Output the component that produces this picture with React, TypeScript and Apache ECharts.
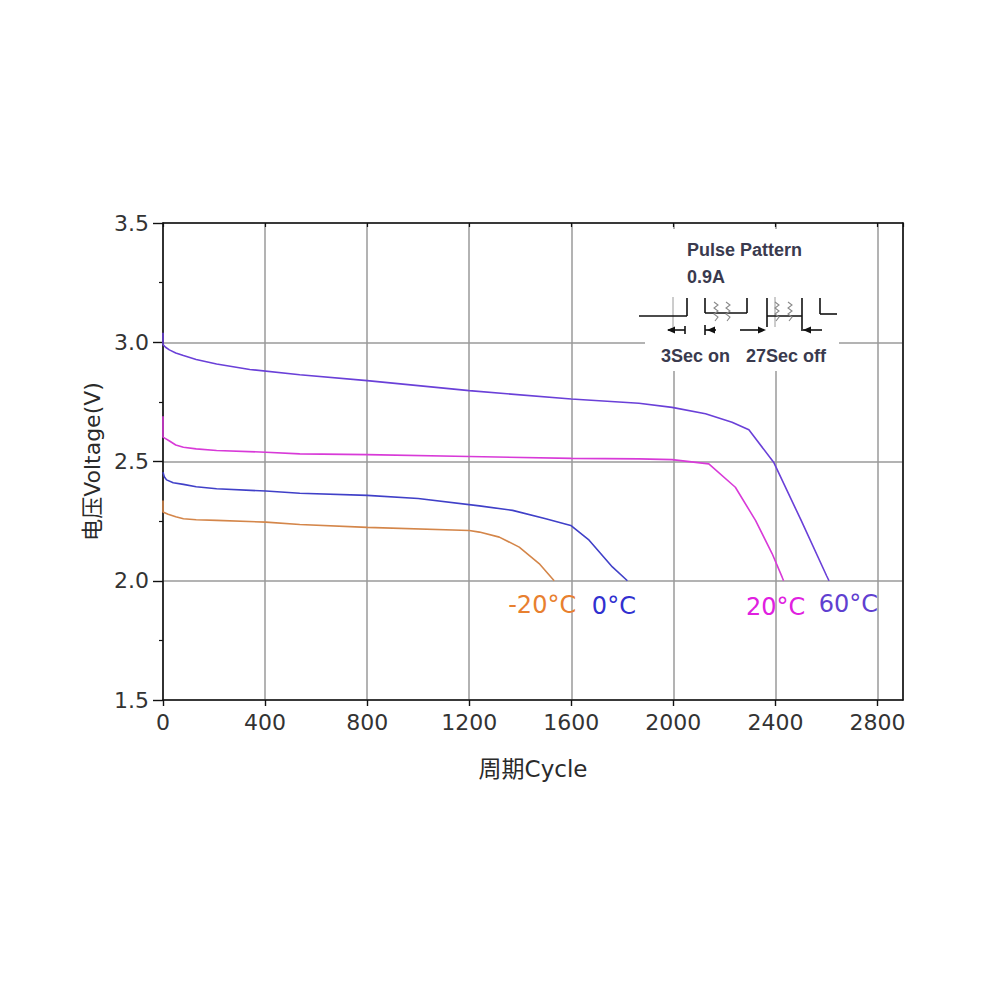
import React, { useEffect, useRef } from "react";
import * as echarts from "echarts";

// ---- data ----
const xTicks = { min: 0, max: 2900, interval: 400 };
const yTicks = { min: 1.5, max: 3.5, interval: 0.5 };

const curve60C: [number, number][] = [
  [0, 3.04], [0, 2.99], [10, 2.979], [25, 2.968], [50, 2.955], [80, 2.944], [130, 2.928],
  [210, 2.909], [340, 2.886], [536, 2.864], [800, 2.839], [1200, 2.797], [1600, 2.762],
  [1865, 2.744], [1995, 2.727], [2126, 2.7], [2230, 2.665], [2296, 2.633], [2393, 2.497],
  [2500, 2.255], [2601, 2.02], [2610, 2.0],
];
const curve20C: [number, number][] = [
  [0, 2.69], [0, 2.602], [10, 2.596], [27, 2.585], [50, 2.569], [80, 2.56], [130, 2.553],
  [210, 2.546], [403, 2.539], [536, 2.532], [800, 2.529], [1200, 2.521], [1600, 2.513],
  [1865, 2.511], [1995, 2.508], [2139, 2.49], [2243, 2.392], [2322, 2.253], [2387, 2.114],
  [2426, 2.016], [2432, 2.0],
];
const curve0C: [number, number][] = [
  [0, 2.455], [5, 2.436], [14, 2.423], [40, 2.411], [80, 2.404], [130, 2.394], [210, 2.386],
  [403, 2.376], [536, 2.367], [800, 2.358], [1000, 2.345], [1240, 2.314], [1370, 2.295],
  [1500, 2.26], [1598, 2.232], [1670, 2.17], [1761, 2.058], [1820, 2.0],
];
const curveMinus20C: [number, number][] = [
  [0, 2.337], [0, 2.288], [20, 2.279], [50, 2.268], [80, 2.26], [130, 2.256], [210, 2.253],
  [403, 2.246], [536, 2.236], [800, 2.224], [1200, 2.211], [1240, 2.204], [1318, 2.183],
  [1396, 2.141], [1474, 2.072], [1533, 2.0],
];

const seriesNames = ["60°C", "20°C", "0°C", "-20°C"];
const lineColors = ["#6a40d8", "#d83ad8", "#4040c8", "#d4864a"];
const labelColors = ["#6040d0", "#e020e0", "#3030d0", "#e8802f"];
const labelCoords: [number, number][] = [
  [2686, 1.902], [2401, 1.889], [1767, 1.895], [1486, 1.897],
];
const curves = [curve60C, curve20C, curve0C, curveMinus20C];

const insetTexts = ["Pulse Pattern", "0.9A", "3Sec on", "27Sec off"];

export default function App() {
  const ref = useRef<HTMLDivElement>(null);

  useEffect(() => {
    if (!ref.current) return;
    const chart = echarts.init(ref.current, null, { renderer: "svg" });

    const ink = "#2a2a2a";
    const insetInk = "#3a3a4e";
    const blk = (x1: number, y1: number, x2: number, y2: number, color = "#111", w = 1.6) => ({
      type: "line",
      z: 101,
      shape: { x1, y1, x2, y2 },
      style: { stroke: color, lineWidth: w },
    });
    const head = (tipX: number, y: number, dir: number) => ({
      type: "polygon",
      z: 102,
      shape: { points: [[tipX, y], [tipX - dir * 8, y - 3.5], [tipX - dir * 8, y + 3.5]] },
      style: { fill: "#111" },
    });
    const squiggle = (x: number, y: number) => ({
      type: "polyline",
      z: 101,
      shape: {
        points: [[x, y], [x + 4, y + 3], [x, y + 6], [x + 4, y + 9], [x, y + 12], [x + 4, y + 15], [x + 1, y + 19]],
      },
      style: { stroke: "#8a8a8a", lineWidth: 1.1, fill: "none" },
    });
    const txt = (text: string, x: number, y: number, align = "left") => ({
      type: "text",
      z: 103,
      style: {
        text,
        x,
        y,
        fill: insetInk,
        fontSize: 18,
        fontWeight: "bold",
        fontFamily: "Liberation Sans, Arial, sans-serif",
        align,
        verticalAlign: "middle",
      },
    });

    const graphics: any[] = [
      { type: "rect", z: 100, shape: { x: 645, y: 229, width: 194, height: 142 }, style: { fill: "#ffffff" } },
      txt(insetTexts[0], 687, 250),
      txt(insetTexts[1], 687, 277),
      txt(insetTexts[2], 661, 356),
      txt(insetTexts[3], 746, 356),
      blk(673, 297, 673, 327, "#9a9a9a", 1),
      blk(775, 297, 775, 327, "#9a9a9a", 1),
      blk(639, 316, 687, 316),
      blk(687, 298, 687, 316),
      blk(705, 298, 705, 313),
      blk(705, 313, 747, 313),
      blk(747, 298, 747, 313),
      blk(767, 298, 767, 327),
      blk(767, 316, 802, 316),
      blk(802, 298, 802, 331),
      blk(820, 298, 820, 314),
      blk(820, 314, 837, 314),
      squiggle(714, 302),
      squiggle(726, 302),
      squiggle(775, 302),
      squiggle(788, 302),
      blk(668, 330, 685, 330),
      head(667, 330, -1),
      blk(685, 326, 685, 334),
      blk(705, 325, 705, 335),
      blk(705, 330, 716, 330),
      head(707, 330, -1),
      blk(740, 330, 764, 330),
      head(766, 330, 1),
      blk(803, 330, 822, 330),
      head(803, 330, -1),
    ];

    const option: any = {
      animation: false,
      backgroundColor: "#ffffff",
      grid: { left: 163, right: 97, top: 223, bottom: 300, containLabel: false },
      xAxis: [
        {
          type: "value",
          min: xTicks.min,
          max: xTicks.max,
          interval: xTicks.interval,
          name: "周期Cycle",
          nameLocation: "middle",
          nameGap: 57,
          nameTextStyle: {
            color: ink,
            fontSize: 23,
            fontFamily: "DejaVu Sans, Noto Sans CJK SC, sans-serif",
          },
          axisLine: { show: true, onZero: false, lineStyle: { color: "#111", width: 1.6 } },
          axisTick: { show: true, inside: false, length: 6, lineStyle: { color: "#111", width: 1.4 } },
          axisLabel: {
            show: true,
            showMaxLabel: false,
            margin: 11,
            color: "#333",
            fontSize: 22,
            fontFamily: "DejaVu Sans, sans-serif",
            formatter: (v: number) => String(v),
          },
          splitLine: { show: true, lineStyle: { color: "#9a9a9a", width: 1.5 } },
        },
        {
          type: "value",
          position: "top",
          min: xTicks.min,
          max: xTicks.max,
          interval: xTicks.interval,
          axisLine: { show: true, onZero: false, lineStyle: { color: "#111", width: 1.6 } },
          axisTick: { show: true, inside: true, length: 4, lineStyle: { color: "#111", width: 1.2 } },
          axisLabel: { show: false },
          splitLine: { show: false },
        },
      ],
      yAxis: [
        {
          type: "value",
          min: yTicks.min,
          max: yTicks.max,
          interval: yTicks.interval,
          name: "电压Voltage(V)",
          nameLocation: "middle",
          nameGap: 60,
          nameTextStyle: {
            color: ink,
            fontSize: 22,
            fontFamily: "DejaVu Sans, Noto Sans CJK SC, sans-serif",
          },
          axisLine: { show: true, onZero: false, lineStyle: { color: "#111", width: 1.6 } },
          axisTick: { show: true, inside: false, length: 10, lineStyle: { color: "#111", width: 1.4 } },
          minorTick: { show: true, splitNumber: 2, length: 4, lineStyle: { color: "#111", width: 1.2 } },
          axisLabel: {
            margin: 14,
            color: "#333",
            fontSize: 22,
            fontFamily: "DejaVu Sans, sans-serif",
            formatter: (v: number) => v.toFixed(1),
          },
          splitLine: { show: true, lineStyle: { color: "#9a9a9a", width: 1.5 } },
        },
        {
          type: "value",
          position: "right",
          min: yTicks.min,
          max: yTicks.max,
          interval: yTicks.interval,
          axisLine: { show: true, onZero: false, lineStyle: { color: "#111", width: 1.6 } },
          axisTick: { show: false },
          axisLabel: { show: false },
          splitLine: { show: false },
        },
      ],
      series: curves.map((data, i) => ({
        name: seriesNames[i],
        type: "line",
        data,
        xAxisIndex: 0,
        yAxisIndex: 0,
        showSymbol: false,
        symbol: "none",
        smooth: false,
        z: 5 - i,
        lineStyle: { color: lineColors[i], width: 1.6 },
        markPoint: {
          symbol: "circle",
          symbolSize: 1,
          itemStyle: { color: "rgba(0,0,0,0)" },
          data: [{ coord: labelCoords[i], value: 0 }],
          label: {
            show: true,
            position: "inside",
            formatter: seriesNames[i],
            color: labelColors[i],
            fontSize: 24,
            fontFamily: "DejaVu Sans, sans-serif",
          },
        },
      })),
      graphic: graphics,
    };

    chart.setOption(option);
    return () => chart.dispose();
  }, []);

  return (
    <div
      ref={ref}
      style={{ position: "absolute", left: 0, top: 0, width: 1000, height: 1000, background: "#fff" }}
    />
  );
}
